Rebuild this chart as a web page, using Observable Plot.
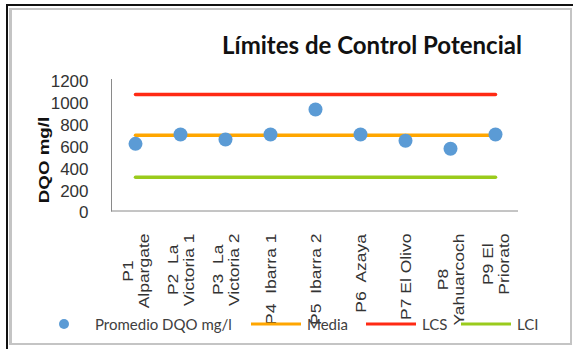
<!DOCTYPE html>
<html lang="es">
<head>
<meta charset="utf-8">
<script src="https://cdn.jsdelivr.net/npm/d3@7"></script>
<script src="https://cdn.jsdelivr.net/npm/@observablehq/plot@0.6"></script>
<style>
  html, body { margin: 0; padding: 0; background: #fff; }
  #chart { position: relative; width: 573px; height: 349px; overflow: hidden; background: #fff; }
  #outer { position: absolute; left: 6px; top: 4px; width: 600px; height: 400px;
           border-left: 2px solid #111; border-top: 2px solid #111; }
  #inner { position: absolute; left: 9px; top: 8px; width: 558px; height: 333px;
           border: 2px solid #c4c4c4; border-left-width: 3px; border-top-width: 2px; }
  #title { position: absolute; left: 0; width: 744px; top: 32px; text-align: center;
           font: bold 24px Lato, sans-serif; color: #111; line-height: 26px; }
  #ytitle { position: absolute; left: 43px; top: 160px; white-space: nowrap;
            font: bold 15px "Liberation Sans", Arial, sans-serif; color: #111;
            transform: translate(-50%, -50%) rotate(-90deg) scaleX(1.25); }
  #legend { position: absolute; left: 0; top: 314px; width: 573px; height: 20px;
            font: 15px Lato, sans-serif; color: #404040; }
  .item { position: absolute; top: 0; height: 20px; display: flex; align-items: center; white-space: nowrap; }
  .item svg { display: block; margin-right: 5px; }
  #chart > svg.plot { position: absolute; left: 0; top: 0; background: transparent; }
</style>
</head>
<body>
<div id="chart">
  <div id="outer"></div>
  <div id="inner"></div>
  <div id="legend"></div>
  <div id="title">Límites de Control Potencial</div>
  <div id="ytitle">DQO mg/l</div>
</div>
<script>
// Sampling points (labels wrap onto two lines where they do in the chart)
const puntos = [
  "P1\nAlpargate",
  "P2  La\nVictoria 1",
  "P3  La\nVictoria 2",
  "P4  Ibarra 1",
  "P5  Ibarra 2",
  "P6  Azaya",
  "P7 El Olivo",
  "P8\nYahuarcoch",
  "P9 El\nPriorato"
];
// Mean COD per point, mg/l
const promedioDQO = [613, 698, 652, 698, 926, 698, 641, 568, 698];
// Control limits, mg/l
const media = 692;
const lcs = 1064;
const lci = 308;
const yTicks = [0, 200, 400, 600, 800, 1000, 1200];

const seriesNames = ["Promedio DQO mg/l", "Media", "LCS", "LCI"];
const seriesColors = ["#5b9bd5", "#ffa600", "#ff2a14", "#9acb1c"];

const rows = puntos.map((p, i) => ({punto: p, dqo: promedioDQO[i]}));

const labelFont = "14px 'Liberation Sans'";
const labelStretch = 1.25;
const ctx = document.createElement("canvas").getContext("2d");
ctx.font = labelFont;
const longest = (s) => d3.max(s.split("\n"), (l) => ctx.measureText(l).width) * labelStretch;

const limit = (value, color) =>
  Plot.lineY(puntos, {x: (d) => d, y: () => value, stroke: color, strokeWidth: 3.5, strokeLinecap: "round"});

const plot = Plot.plot({
  width: 573,
  height: 349,
  marginLeft: 111,
  marginRight: 55,
  marginTop: 79,
  marginBottom: 138.5,
  style: {fontFamily: "'Liberation Sans', Arial, sans-serif", fontSize: "17px", color: "#333", background: "transparent"},
  x: {type: "point", domain: puntos, padding: 0.5, axis: null},
  y: {domain: [0, 1200], axis: null},
  marks: [
    Plot.frame({anchor: "left", stroke: "#8a8a8a"}),
    Plot.ruleY([0], {stroke: "#8a8a8a"}),
    Plot.axisY({ticks: yTicks, tickFormat: (d) => String(d), tickSize: 0, tickPadding: 23, label: null, fontSize: 17, dy: 2, fill: "#333"}),
    limit(lcs, seriesColors[2]),
    limit(media, seriesColors[1]),
    limit(lci, seriesColors[3]),
    Plot.dot(rows, {x: "punto", y: "dqo", r: 7, fill: seriesColors[0], stroke: null}),
    ...puntos.map((p) =>
      Plot.text([p], {
        x: (d) => d,
        text: (d) => d,
        frameAnchor: "bottom",
        rotate: -90,
        textAnchor: "middle",
        lineAnchor: "middle",
        lineHeight: 1.15,
        dy: 22.5 + longest(p) / 2,
        fontSize: 14,
        fill: "#333",
        className: "xlabel"
      })
    )
  ]
});

// lengthen the rotated category labels along their reading direction
d3.select(plot).selectAll(".xlabel text").attr("transform", function () {
  return (this.getAttribute("transform") || "") + ` scale(${labelStretch},1)`;
});

document.getElementById("chart").appendChild(plot);

// legend
const legendLeft = [38, 250, 365, 460];
const legend = d3.select("#legend");
seriesNames.forEach((name, i) => {
  const item = legend.append("div").attr("class", "item").style("left", legendLeft[i] + "px");
  const sw = item.append("svg").attr("width", 52).attr("height", 20);
  if (i === 0) {
    sw.append("circle").attr("cx", 26).attr("cy", 10).attr("r", 5).attr("fill", seriesColors[i]);
  } else {
    sw.append("line").attr("x1", 1).attr("x2", 51).attr("y1", 10).attr("y2", 10)
      .attr("stroke", seriesColors[i]).attr("stroke-width", 3);
  }
  item.append("span").text(name);
});
</script>
</body>
</html>
